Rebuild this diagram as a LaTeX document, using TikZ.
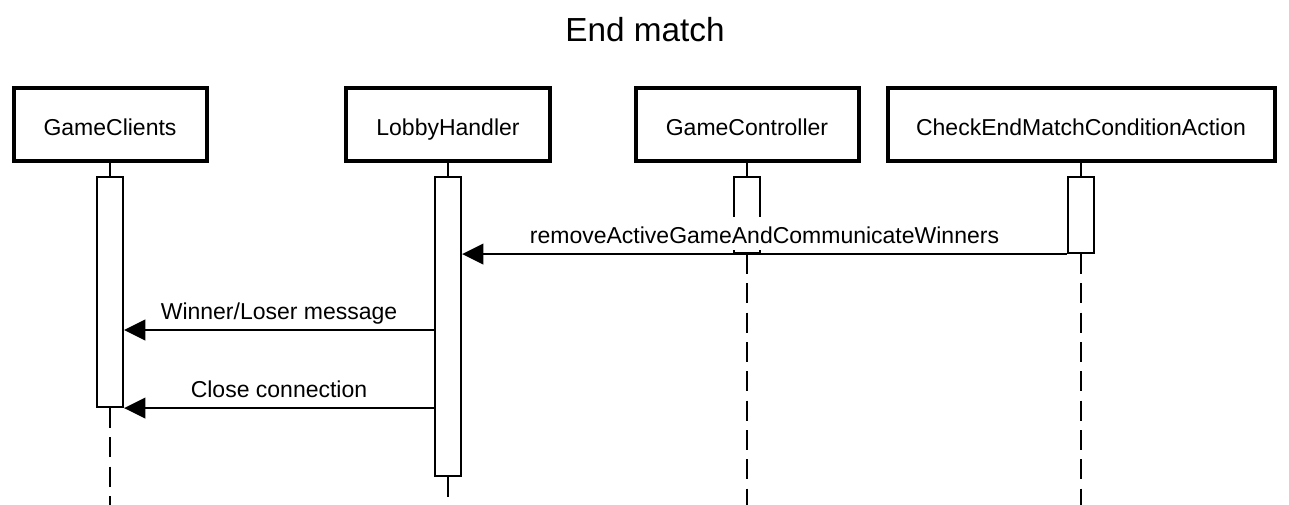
\documentclass[tikz,border=0pt]{standalone}
\usepackage{fontspec}
\setmainfont{Liberation Sans}
\usepackage{tikz}
\usetikzlibrary{arrows.meta}

\tikzset{
  actor/.style={draw, line width=3pt, minimum height=54.75pt, text height=16pt, text depth=0pt, inner sep=0pt, font=\fontsize{17.25}{20}\selectfont},
  activation/.style={draw, fill=white, line width=1.6pt, minimum width=19.5pt, inner sep=0pt},
  lifeline/.style={line width=1.6pt, dash pattern=on 15pt off 7pt},
  msg/.style={line width=1.5pt, -{Triangle[length=16pt,width=15.5pt]}},
  msglabel/.style={fill=white, anchor=base, yshift=7.8pt, text height=20pt, text depth=5pt, inner ysep=0pt, inner xsep=2pt, font=\fontsize{17.25}{20}\selectfont}
}

\begin{document}
\begin{tikzpicture}[x=0.75pt,y=0.75pt,yscale=-1,xscale=1]
\path[use as bounding box] (0,0) rectangle (1289,505);

% Title
\node (title) [anchor=base, font=\fontsize{25}{30}\selectfont] at (645,42) {End match};

% Participants
\node (gc) [actor, minimum width=144.75pt] at (110,124.5) {GameClients};
\node (lh) [actor, minimum width=153pt] at (448,124.5) {LobbyHandler};
\node (ctrl) [actor, minimum width=167.25pt] at (747,124.5) {GameController};
\node (cemca) [actor, minimum width=290.25pt] at (1081,124.5) {CheckEndMatchConditionAction};

% Activation boxes
\node (gcact) [activation, minimum height=172.5pt] at (110,292) {};
\node (lhact) [activation, minimum height=224.25pt] at (448,326.5) {};
\node (ctrlact) [activation, minimum height=57pt] at (747,215) {};
\node (cemcaact) [activation, minimum height=57pt] at (1081,215) {};

% Lifeline ends
\coordinate (gcend) at (110,505);
\coordinate (lhend) at (448,505);
\coordinate (ctrlend) at (747,505);
\coordinate (cemcaend) at (1081,505);
\coordinate (w2) at (434,330);

% Short lines from participants to activations
\draw[line width=1.5pt] (gc) -- (gcact);
\draw[line width=1.5pt] (lh) -- (lhact);
\draw[line width=1.5pt] (ctrl) -- (ctrlact);
\draw[line width=1.5pt] (cemca) -- (cemcaact);

% Lifelines
\draw[lifeline] (gcact.south) -- (gcend);
\draw[lifeline] (lhact.south) -- (lhend);
\draw[lifeline] (ctrlact.south) -- (ctrlend);
\draw[lifeline] (cemcaact.south) -- (cemcaend);

% Messages
\draw[msg] (cemcaact.south west) -- (lhact.east |- cemcaact.south west) node[msglabel, midway] {removeActiveGameAndCommunicateWinners};
\draw[msg] (w2) -- (gcact.east |- w2) node[msglabel, midway] {Winner/Loser message};
\draw[msg] (lhact.west |- gcact.south east) -- (gcact.south east) node[msglabel, midway] {Close connection};

\end{tikzpicture}
\end{document}
